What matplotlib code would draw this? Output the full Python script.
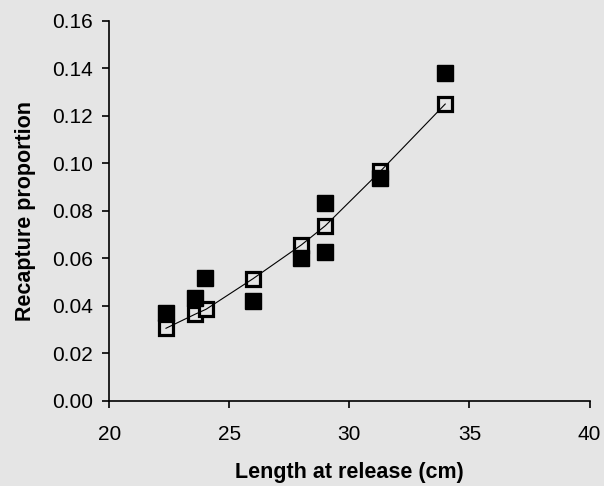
import numpy as np
from matplotlib import pyplot as plt

# length at release (cm) for the fitted curve (open squares)
fit_length = [22.36, 23.57, 24.03, 25.99, 28.0, 29.0, 31.28, 33.99]
fit_prop = [0.0306, 0.0365, 0.0386, 0.0515, 0.0657, 0.0738, 0.0966, 0.125]

# observed proportions (filled squares)
obs_length = [22.36, 23.57, 24.0, 25.99, 28.0, 29.0, 29.0, 31.28, 33.99]
obs_prop = [0.0369, 0.0435, 0.0516, 0.0422, 0.060, 0.0835, 0.0629, 0.0938, 0.1382]

x_ticks = [20, 25, 30, 35, 40]
y_ticks = [0.00, 0.02, 0.04, 0.06, 0.08, 0.10, 0.12, 0.14, 0.16]

bg = "#e5e5e5"
plt.rcParams["font.family"] = ["Liberation Sans", "DejaVu Sans"]

fig = plt.figure(figsize=(6.04, 4.86), dpi=100, facecolor=bg)
ax = fig.add_axes([0.181, 0.175, 0.795, 0.782], facecolor=bg)

# open squares first, filled squares over them, thin line on top
ax.plot(fit_length, fit_prop, linestyle="none", marker="s", markersize=9.8,
        markerfacecolor=bg, markeredgecolor="black", markeredgewidth=2.3,
        zorder=2)
ax.plot(obs_length, obs_prop, linestyle="none", marker="s", markersize=11.5,
        color="black", zorder=3)
ax.plot(fit_length, fit_prop, color="black", linewidth=0.8, zorder=4)

ax.set_xlim(20, 40)
ax.set_ylim(0, 0.16)
ax.set_xticks(x_ticks)
ax.set_yticks(y_ticks)
ax.set_xticklabels([str(t) for t in x_ticks])
ax.set_yticklabels([f"{t:.2f}" for t in y_ticks])

for side in ["top", "right"]:
    ax.spines[side].set_visible(False)
for side in ["left", "bottom"]:
    ax.spines[side].set_linewidth(1.2)

ax.tick_params(direction="out", length=5, width=1.2, labelsize=15, pad=7)
ax.tick_params(axis="x", pad=12)

ax.set_xlabel("Length at release (cm)", fontsize=15.5, fontweight="bold", labelpad=13.5)
ax.set_ylabel("Recapture proportion", fontsize=15.5, fontweight="bold", labelpad=11)

fig.savefig("out.png", dpi=100, facecolor=bg)
plt.close()
